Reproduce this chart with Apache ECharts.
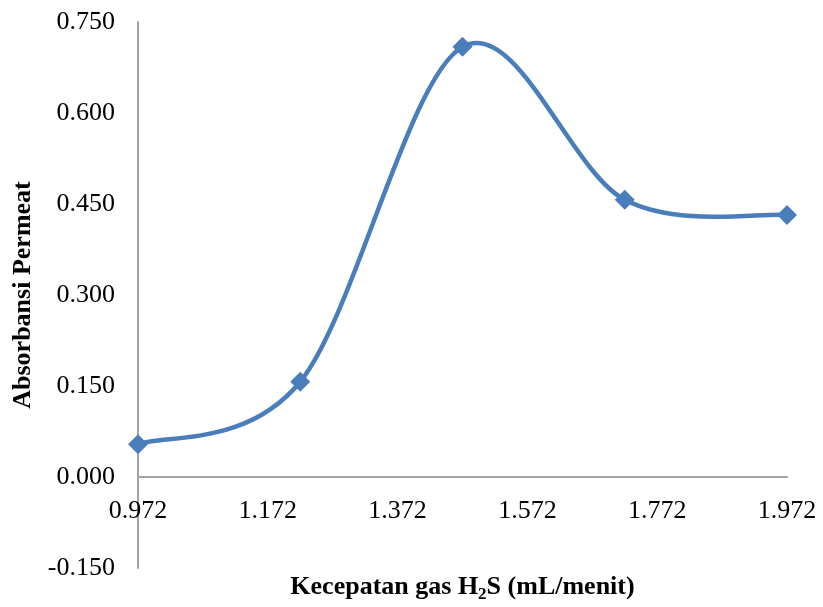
<!DOCTYPE html>
<html>
<head>
<meta charset="utf-8">
<script src="https://cdn.jsdelivr.net/npm/echarts@6/dist/echarts.min.js"></script>
<style>
  html, body { margin: 0; padding: 0; background: #ffffff; }
  #chart { width: 823px; height: 607px; }
</style>
</head>
<body>
<div id="chart"></div>
<script>
// H2S gas flow rate (mL/menit) and permeate absorbance
const flowRates = [0.972, 1.222, 1.472, 1.722, 1.972];
const absorbance = [0.054, 0.157, 0.709, 0.457, 0.432];
const xTickStart = 0.972;   // first x tick label
const xTickStep = 0.2;
const yTicks = [-0.15, 0.75, 0.15]; // min, max, step

// x values are plotted as an offset from the first tick so ticks fall on 0.972, 1.172, ...
const points = flowRates.map((x, i) => [x - xTickStart, absorbance[i]]);

const serif = '"Liberation Serif", "Times New Roman", serif';
const axisGrey = '#a3a3a3';
const lineBlue = '#4a7ebb';

const W = 823, H = 607;
const grid = { left: 138, right: 36, top: 22, bottom: 39 };
const gridHeight = H - grid.top - grid.bottom;
// the x axis sits on y = 0, above the bottom of the plot area
const xAxisLift = -gridHeight * (0 - yTicks[0]) / (yTicks[1] - yTicks[0]);

// smoothed segment between data items i and i+1 (Catmull-Rom style cubic Bezier)
function renderSegment(params, api) {
  const i = params.dataIndex;
  if (i >= points.length - 1) return null;
  const px = k => api.coord(points[Math.max(0, Math.min(points.length - 1, k))]);
  const p0 = px(i - 1), p1 = px(i), p2 = px(i + 1), p3 = px(i + 2);
  const t = 1 / 6;
  return {
    type: 'bezierCurve',
    shape: {
      x1: p1[0], y1: p1[1],
      cpx1: p1[0] + (p2[0] - p0[0]) * t, cpy1: p1[1] + (p2[1] - p0[1]) * t,
      cpx2: p2[0] - (p3[0] - p1[0]) * t, cpy2: p2[1] - (p3[1] - p1[1]) * t,
      x2: p2[0], y2: p2[1]
    },
    style: { fill: null, stroke: lineBlue, lineWidth: 4.5, lineCap: 'round' }
  };
}

const chart = echarts.init(document.getElementById('chart'));
chart.setOption({
  animation: false,
  backgroundColor: '#ffffff',
  grid: Object.assign({ containLabel: false, outerBoundsMode: 'none' }, grid),
  xAxis: {
    type: 'value',
    min: 0,
    max: flowRates[flowRates.length - 1] - xTickStart,
    interval: xTickStep,
    offset: xAxisLift,
    axisLine: { onZero: false, lineStyle: { color: axisGrey, width: 2 } },
    axisTick: { show: false },
    splitLine: { show: false },
    axisLabel: {
      margin: 21,
      fontFamily: serif, fontSize: 26, color: '#000',
      formatter: v => (v + xTickStart).toFixed(3)
    },
    name: '{b|Kecepatan gas H}{s|2}{b|S (mL/menit)}',
    nameLocation: 'middle',
    nameGap: 95,
    nameTextStyle: {
      rich: {
        b: { fontFamily: serif, fontSize: 26, fontWeight: 'bold', color: '#000' },
        s: { fontFamily: serif, fontSize: 17, fontWeight: 'bold', color: '#000', verticalAlign: 'bottom', padding: [14, 0, 0, 0] }
      }
    }
  },
  yAxis: {
    type: 'value',
    min: yTicks[0],
    max: yTicks[1],
    interval: yTicks[2],
    axisLine: { show: true, onZero: false, lineStyle: { color: axisGrey, width: 2 } },
    axisTick: { show: false },
    splitLine: { show: false },
    axisLabel: {
      margin: 23,
      fontFamily: serif, fontSize: 26, color: '#000',
      formatter: v => v.toFixed(3)
    },
    name: 'Absorbansi Permeat',
    nameLocation: 'middle',
    nameRotate: 90,
    nameGap: 102,
    nameTextStyle: { fontFamily: serif, fontSize: 26, fontWeight: 'bold', color: '#000' }
  },
  series: [
    {
      type: 'custom',
      data: points,
      renderItem: renderSegment,
      clip: false,
      z: 2
    },
    {
      type: 'scatter',
      data: points,
      symbol: 'diamond',
      symbolSize: 20,
      itemStyle: { color: lineBlue, opacity: 1 },
      z: 3
    }
  ]
});
</script>
</body>
</html>
